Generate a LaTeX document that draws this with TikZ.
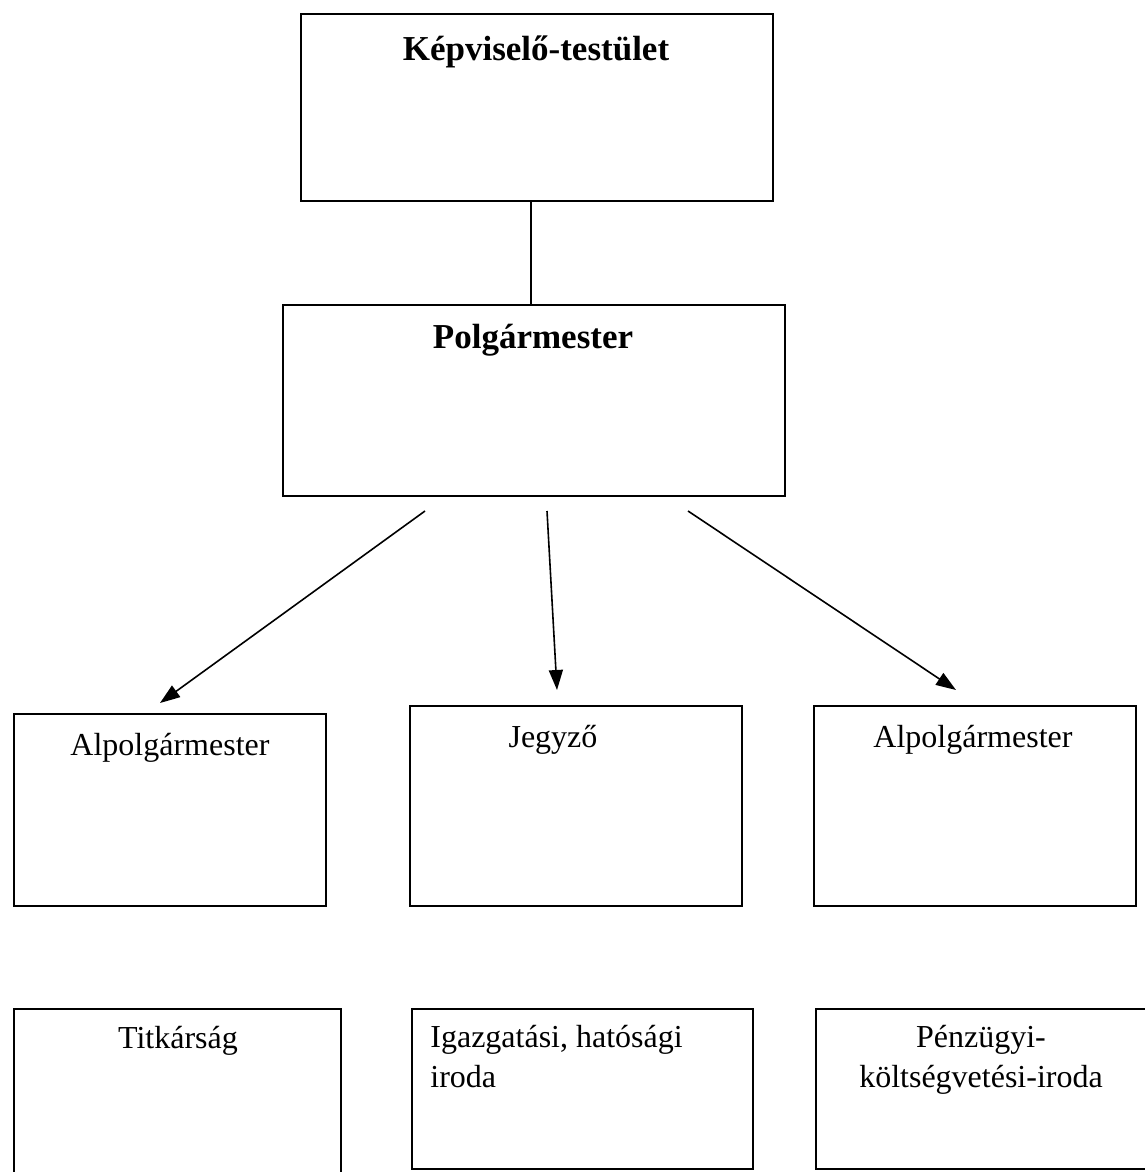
\documentclass[tikz,border=0pt]{standalone}
\usepackage{fontspec}
\setmainfont{Liberation Serif}
\usetikzlibrary{arrows.meta, positioning}

\begin{document}
\begin{tikzpicture}[
        x=0.5pt, y=-0.5pt,
        box/.style={rectangle, draw, line width=1.2pt, inner sep=0pt, anchor=north west},
        title/.style={font=\fontsize{17.5}{20}\selectfont\bfseries, inner sep=0pt, anchor=base},
        txt/.style={font=\fontsize{16}{20}\selectfont, inner sep=0pt, anchor=base},
        arrow/.style={-{Triangle[length=10pt, width=7pt]}, line width=0.8pt}
    ]
        \useasboundingbox (0,0) rectangle (1145,1172);

        % top levels
        \node[box, minimum width=236pt, minimum height=93.5pt] (kt) at (300,13) {};
        \node[title] (kt-t) at (536,61) {Képviselő-testület};
        \node[box, minimum width=251pt, minimum height=95.5pt] (pm) at (282,304) {};
        \node[title] (pm-t) at (533,348) {Polgármester};
        \draw[line width=1pt] ([xshift=-3pt]kt.south) -- ([xshift=-3pt]kt.south |- pm.north);

        % second row
        \node[box, minimum width=156pt, minimum height=96pt] (a1) at (13,713) {};
        \node[txt] (a1-t) at (170,755) {Alpolgármester};
        \node[box, minimum width=166pt, minimum height=100pt] (jz) at (409,705) {};
        \node[txt] (jz-t) at (553,747) {Jegyző};
        \node[box, minimum width=161pt, minimum height=100pt] (a2) at (813,705) {};
        \node[txt] (a2-t) at (973,747) {Alpolgármester};

        % third row
        \node[box, minimum width=163.5pt, minimum height=92pt] (tk) at (13,1008) {};
        \node[txt] (tk-t) at (178,1048) {Titkárság};
        \node[box, minimum width=170.5pt, minimum height=80pt] (ig) at (411,1008) {};
        \node[txt, anchor=north west, align=left] (ig-t) at (430,1025) {Igazgatási, hatósági\\iroda};
        \node[box, minimum width=172pt, minimum height=80pt] (pz) at (815,1008) {};
        \node[txt, anchor=north, align=center] (pz-t) at (981,1025) {Pénzügyi-\\költségvetési-iroda};

        % arrows from the mayor
        \coordinate (s1) at (425,511);
        \coordinate (e1) at (160,703);
        \coordinate (s2) at (547,511);
        \coordinate (e2) at (557,690);
        \coordinate (s3) at (688,511);
        \coordinate (e3) at (956,690);
        \draw[arrow] (s1) -- (e1);
        \draw[arrow] (s2) -- (e2);
        \draw[arrow] (s3) -- (e3);
    \end{tikzpicture}
\end{document}
